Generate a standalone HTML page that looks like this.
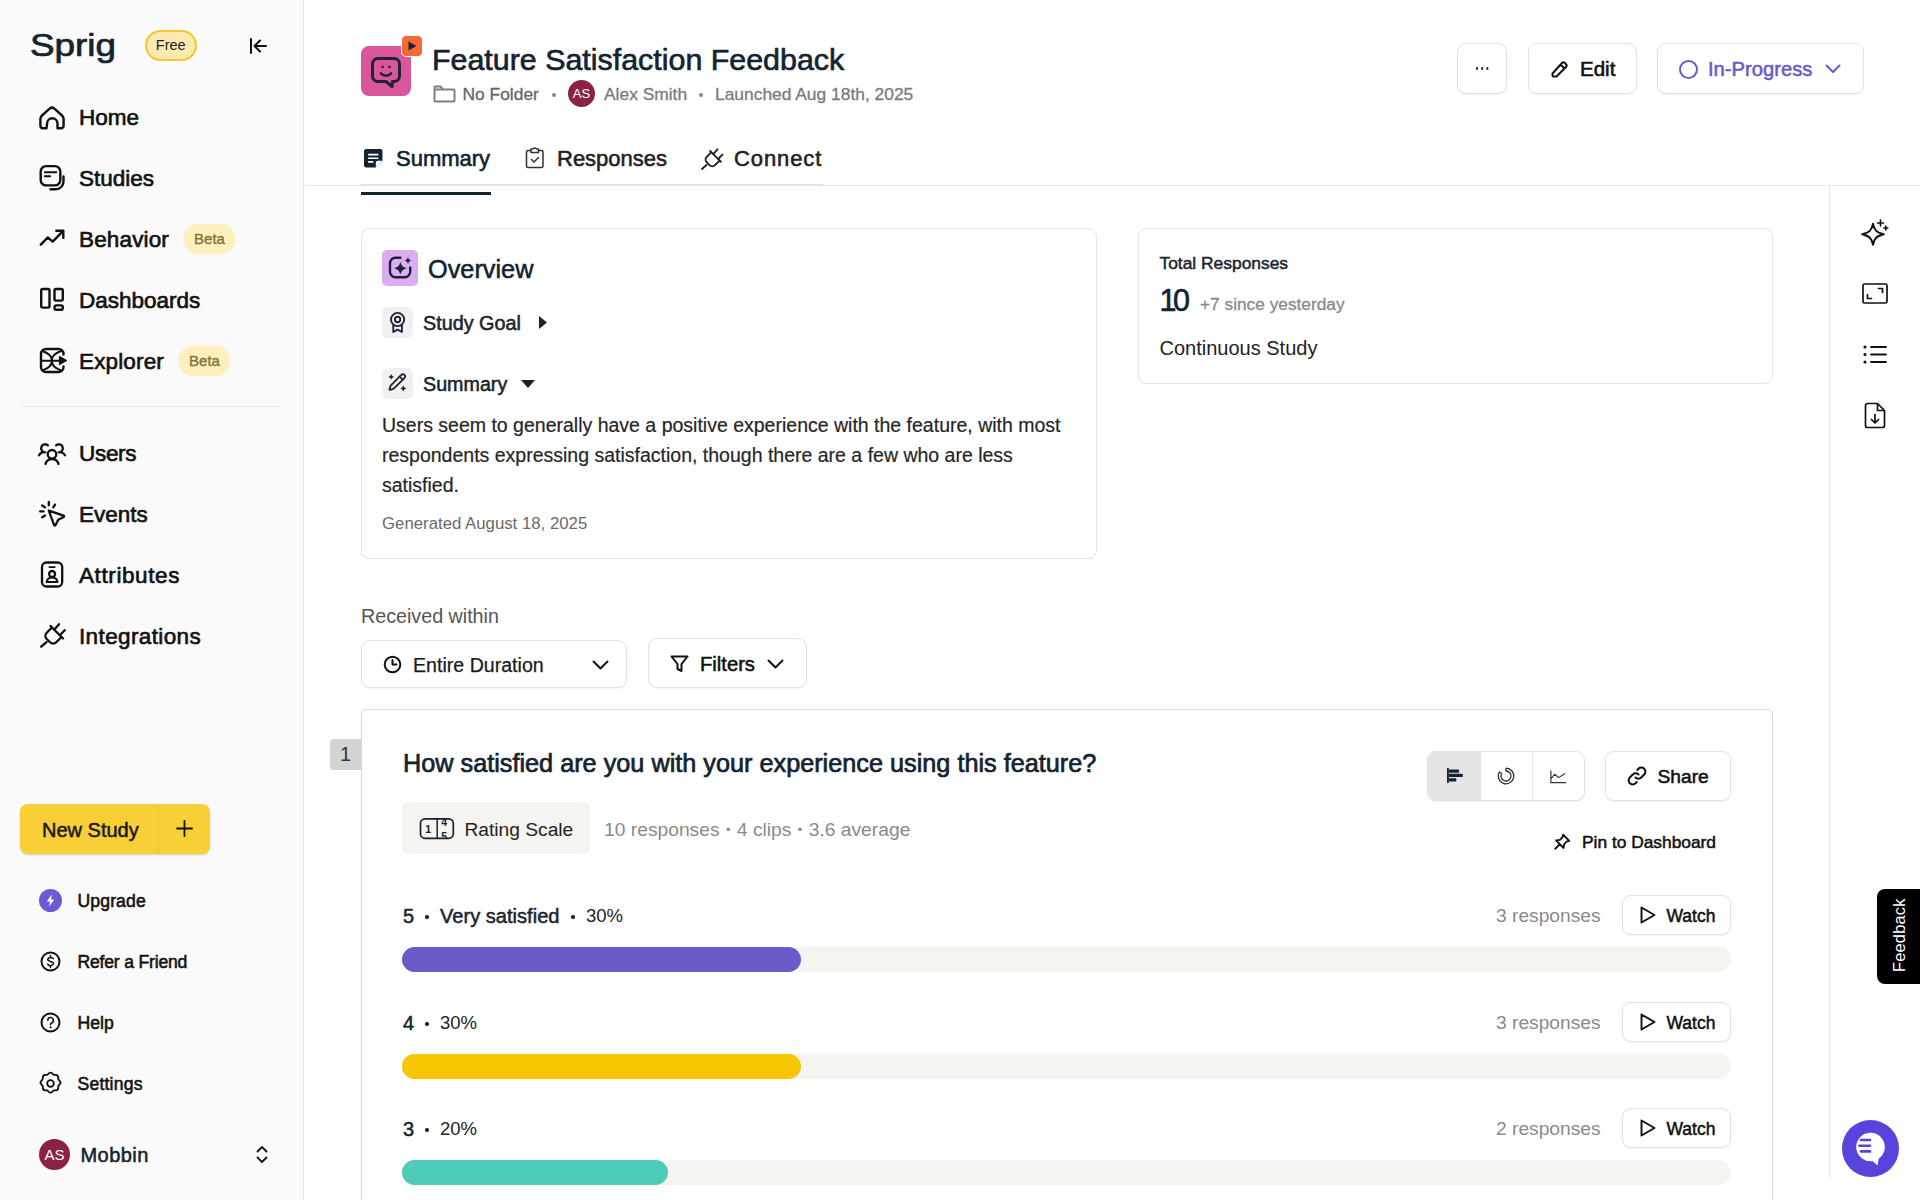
<!DOCTYPE html>
<html lang="en">
<head>
<meta charset="utf-8">
<title>Feature Satisfaction Feedback</title>
<style>
*{box-sizing:border-box;margin:0;padding:0}
html,body{width:1920px;height:1200px;overflow:hidden;background:#fff}
body{font-family:"Liberation Sans",sans-serif;color:#0f1d2a;position:relative}
.abs{position:absolute}
svg{display:block;overflow:visible}
.t{position:absolute;white-space:nowrap;line-height:1}

/* sidebar */
#side{position:absolute;left:0;top:0;width:304px;height:1200px;background:#fafafa;border-right:1px solid #e6e6e6}
.nav{position:absolute;left:79px;font-size:22.5px;font-weight:normal;color:#111;white-space:nowrap;line-height:1;-webkit-text-stroke:0.65px #111}
.nav2{position:absolute;left:77.5px;font-size:17.6px;font-weight:normal;color:#111;white-space:nowrap;line-height:1;-webkit-text-stroke:0.55px #111}
.beta{position:absolute;height:30px;border-radius:15px;background:#fdf0bf;color:#857331;font-size:15px;line-height:30px;text-align:center;font-weight:normal;-webkit-text-stroke:0.35px #857331;box-shadow:0 0 3px #fdf0bf}
.ico{position:absolute;stroke:#111;fill:none;stroke-width:2;stroke-linecap:round;stroke-linejoin:round}

/* main */
.btn{position:absolute;border:1px solid #e2e2e2;border-radius:9px;background:#fff;box-shadow:0 1px 2px rgba(0,0,0,.06)}
.card{position:absolute;border:1px solid #e4e4e4;border-radius:8px;background:#fff}
.gray{color:#7b7b7b}
.track{position:absolute;left:402px;width:1329px;height:25px;border-radius:13px;background:#f5f4f0}
.fill{position:absolute;left:0;top:0;height:25px;border-radius:13px}
</style>
</head>
<body>

<!-- ============ SIDEBAR ============ -->
<div id="side">
  <!-- logo -->
  <div class="t" id="logo" style="left:29.5px;top:29.5px;font-size:31.5px;letter-spacing:0;color:#13232f;-webkit-text-stroke:0.7px #13232f;transform:scaleX(1.17);transform-origin:0 0">Sprig</div>
  <div class="abs" style="left:144.5px;top:30px;width:52.5px;height:30.5px;border:2px solid #f4c92f;border-radius:15.5px;background:#fbe9b2;font-size:14.5px;line-height:27px;text-align:center;color:#222">Free</div>
  <svg class="ico" style="left:246.7px;top:34.7px" width="22" height="22" viewBox="0 0 22 22"><path d="M4 4v14M19 11H8M13 5.5L7.5 11l5.500 5.500"/></svg>


  <!-- sidebar icons -->
  <svg class="ico" style="left:0;top:0;stroke-width:2.4px" width="304" height="1200" viewBox="0 0 304 1200">
    <!-- home -->
    <path d="M46.500 128.300h-3.600a2.500 2.500 0 0 1 -2.500 -2.500v-6.800c0-1.400 0.600-2.600 1.600-3.500l7.600-6.800a3.600 3.600 0 0 1 4.800 0l7.600 6.800c1 0.900 1.600 2.100 1.600 3.500v6.800a2.500 2.500 0 0 1 -2.500 2.500h-3.600v-4.800a5.200 5.200 0 0 0 -10.400 0z"/>
    <!-- studies -->
    <rect x="40.700" y="166.100" width="19.600" height="19.300" rx="5.500"/>
    <path d="M44.800 172.300h11.400M44.800 176.300h5.400" stroke-width="2"/>
    <path d="M63.500 176.500v5a7.800 7.800 0 0 1 -7.800 7.800h-5.200"/>
    <!-- behavior -->
    <path d="M40.800 244.600l7-7.200 4.900 4.300 10.300-10.600M56.300 230.700h7v7.200"/>
    <!-- dashboards -->
    <rect x="41.200" y="289" width="8.300" height="18.600" rx="1.500"/>
    <rect x="54.500" y="289" width="8.300" height="11.600" rx="1.500"/>
    <rect x="54.500" y="305.400" width="8.300" height="4.400" rx="1.800"/>
    <!-- explorer -->
    <path d="M63.500 354.500v-0.500a5 5 0 0 0 -5 -5h-12.500a5 5 0 0 0 -5 5v13a5 5 0 0 0 5 5h12.500a5 5 0 0 0 5 -5v-0.500"/>
    <path d="M42.400 351.100C55.200 355.500 55.200 366 42.400 370.400M61.200 351.100C48.400 355.500 48.400 366 61.200 370.400M41 360.700h19" stroke-width="2.100"/>
    <path d="M59.500 356.500l7 4-7 4z" fill="#111" stroke-width="1.200"/>
    <!-- users -->
    <g stroke-width="2.300">
    <circle cx="52" cy="454.300" r="4.300"/>
    <path d="M45.500 463.800a6.800 6.800 0 0 1 13 0"/>
    <path d="M45.300 452.300a4 4 0 1 1 2.600 -6.900M39 455.200a6 6 0 0 1 4.600 -3"/>
    <path d="M58.700 452.300a4 4 0 1 0 -2.600 -6.900M65 455.200a6 6 0 0 0 -4.600 -3"/>
    </g>
    <!-- events -->
    <g stroke-width="2.300">
    <path d="M48.800 510.600l14.800 5a0.800 0.800 0 0 1 0.100 1.400l-5.400 2.800-2.800 5.400a0.800 0.800 0 0 1 -1.400 -0.100z"/>
    <path d="M48.800 502v3.300M55 504.600l-1.700 2.800M40.200 511.400h3.300M42.300 517.300l2.700-1.800M42.200 505.500l2.700 1.800"/>
    </g>
    <!-- attributes -->
    <g stroke-width="2.300">
    <rect x="42" y="562.500" width="20.200" height="24" rx="4.500"/>
    <path d="M49.500 567.200h5.200" stroke-width="1.800"/>
    <circle cx="52.100" cy="574" r="3"/>
    <path d="M46.600 582a5.600 5.600 0 0 1 11 0z" stroke-width="1.900"/>
    </g>
    <!-- integrations -->
    <g stroke-width="2.300">
    <path d="M41.200 646.700l5.300-4.600"/>
    <path d="M50.500 626l12.500 12.500"/>
    <path d="M52 627.500l-5.300 5.300a4.400 4.400 0 0 0 0 6.200l3.300 3.300a4.400 4.400 0 0 0 6.200 0l5.300-5.300"/>
    <path d="M54.500 629.500l4.500-5.300M60 635l4.800-4.700"/>
    </g>
    <!-- refer -->
    <g stroke-width="2">
    <circle cx="50.500" cy="961.500" r="9"/>
    <path d="M53.300 958.700a3 2.300 0 0 0 -5.600 0.600c0 2.700 5.800 1.500 5.800 4.300a3 2.300 0 0 1 -5.800 0.500M50.500 955.500v1.200M50.500 966.300v1.200" stroke-width="1.500"/>
    <!-- help -->
    <circle cx="50.500" cy="1022.500" r="9"/>
    <path d="M47.800 1020.300a2.800 2.800 0 1 1 3.900 2.600c-0.800 0.400-1.200 0.900-1.200 1.800" stroke-width="1.600"/>
    <circle cx="50.500" cy="1027.300" r="0.600" fill="#111" stroke-width="1"/>
    <!-- settings -->
    <circle cx="50.500" cy="1083.500" r="3.300" stroke-width="1.800"/>
    <path d="M47.300 1074.800l1.500-1.400a2.500 2.500 0 0 1 3.400 0l1.500 1.400 2.100 0.100a2.500 2.500 0 0 1 2.400 2.400l0.100 2.100 1.400 1.500a2.500 2.500 0 0 1 0 3.400l-1.400 1.500-0.100 2.100a2.500 2.500 0 0 1 -2.400 2.400l-2.100 0.100-1.500 1.400a2.500 2.500 0 0 1 -3.400 0l-1.500-1.400-2.100-0.100a2.500 2.500 0 0 1 -2.400 -2.400l-0.100-2.100-1.400-1.500a2.500 2.500 0 0 1 0 -3.400l1.400-1.500 0.100-2.100a2.500 2.500 0 0 1 2.400 -2.400z" stroke-width="1.800"/>
    </g>
    <!-- up/down -->
    <path d="M257.500 1151.500l4.500-4.500 4.500 4.500M257.500 1157.500l4.500 4.500 4.500-4.500" stroke-width="1.800"/>
  </svg>
  <!-- upgrade -->
  <div class="abs" style="left:39px;top:889px;width:23px;height:23px;border-radius:50%;background:#6b5bd0"></div>
  <svg class="abs" style="left:39px;top:889px" width="23" height="23" viewBox="0 0 23 23"><path d="M12.800 5.500l-5 7h3.200l-0.800 5 5-7h-3.200z" fill="#fff"/></svg>

  <div class="nav" style="top:107px">Home</div>
  <div class="nav" style="top:168px">Studies</div>
  <div class="nav" style="top:229px;letter-spacing:0.15px">Behavior</div>
  <div class="beta" style="left:184px;top:224px;width:51px">Beta</div>
  <div class="nav" style="top:290px">Dashboards</div>
  <div class="nav" style="top:351px;letter-spacing:0.15px">Explorer</div>
  <div class="beta" style="left:179px;top:346px;width:51px">Beta</div>

  <div class="abs" style="left:20px;top:406px;width:264px;height:1px;background:#ececec"></div>

  <div class="nav" style="top:443px;letter-spacing:-0.3px">Users</div>
  <div class="nav" style="top:504px">Events</div>
  <div class="nav" style="top:565px;letter-spacing:0.6px">Attributes</div>
  <div class="nav" style="top:626px;letter-spacing:0.37px">Integrations</div>

  <!-- New Study -->
  <div class="abs" style="left:20px;top:804px;width:190px;height:50px;border-radius:8px;background:#f9cf38;box-shadow:0 1px 2px rgba(0,0,0,.18)"></div>
  <div class="abs" style="left:158px;top:804px;width:1px;height:50px;background:#eec22c"></div>
  <div class="t" style="left:42px;top:820px;font-size:20px;color:#1b1b1b;-webkit-text-stroke:0.55px #1b1b1b">New Study</div>
  <svg class="ico" style="left:176px;top:820px" width="17" height="17" viewBox="0 0 17 17"><path d="M8.500 1v15M1 8.500h15" stroke-width="1.800"/></svg>

  <div class="nav2" style="top:893px;letter-spacing:0.12px">Upgrade</div>
  <div class="nav2" style="top:954px;letter-spacing:-0.2px">Refer a Friend</div>
  <div class="nav2" style="top:1015px">Help</div>
  <div class="nav2" style="top:1076px;letter-spacing:0.2px">Settings</div>

  <div class="abs" style="left:39px;top:1139px;width:31px;height:31px;border-radius:50%;background:#8a2244;color:#fff;font-size:15px;line-height:31px;text-align:center">AS</div>
  <div class="t" style="left:80.5px;top:1145px;font-size:20px;letter-spacing:0.45px;color:#13232f;-webkit-text-stroke:0.55px #13232f">Mobbin</div>
</div>

<!-- ============ HEADER ============ -->
<div id="hdr">
  <div class="abs" style="left:361px;top:46px;width:50px;height:50px;border-radius:8px;background:#d9559c"></div>
  <div class="abs" style="left:401px;top:35px;width:22px;height:22px;border-radius:5px;background:#f26a35;border:1.5px solid #fff"></div>
  <div class="t" id="title" style="left:432px;top:44px;font-size:30.4px;color:#13232f;-webkit-text-stroke:0.65px #13232f">Feature Satisfaction Feedback</div>
  <div class="t gray" style="left:462.5px;top:86px;font-size:17.4px;-webkit-text-stroke:0.3px;color:#666">No Folder</div>
  <div class="t gray" style="left:604px;top:86px;font-size:17.4px;-webkit-text-stroke:0.3px">Alex Smith</div>
  <div class="t gray" style="left:715px;top:86px;font-size:17.4px;-webkit-text-stroke:0.3px">Launched Aug 18th, 2025</div>
  <div class="abs" style="left:568px;top:80px;width:27px;height:27px;border-radius:50%;background:#8a2244;color:#fff;font-size:13px;line-height:27px;text-align:center">AS</div>
</div>


<!-- header icons -->
<svg class="abs" style="left:361px;top:46px" width="50" height="50" viewBox="0 0 50 50" fill="none" stroke="#1d2433" stroke-width="3" stroke-linecap="round" stroke-linejoin="round">
  <path d="M17 12.500h16a5.500 5.500 0 0 1 5.500 5.500v12a5.500 5.500 0 0 1 -5.500 5.500h-1.500l-0.500 5-6-5h-8a5.500 5.500 0 0 1 -5.500 -5.500v-12a5.500 5.500 0 0 1 5.500 -5.500z"/>
  <path d="M20 27.500c2.500 3 7.500 3 10 0" stroke-width="2.600"/>
  <circle cx="21.500" cy="21" r="1.300" fill="#1d2433" stroke="none"/><circle cx="28.500" cy="21" r="1.300" fill="#1d2433" stroke="none"/>
</svg>
<svg class="abs" style="left:402px;top:36px" width="20" height="20" viewBox="0 0 20 20"><path d="M6.500 5.500l8 4.500-8 4.500z" fill="#1d2433"/></svg>
<svg class="abs" style="left:433px;top:84px" width="23" height="19" viewBox="0 0 23 19" fill="none" stroke="#808080" stroke-width="2" stroke-linejoin="round"><path d="M1.500 4v12.500a1 1 0 0 0 1 1h18a1 1 0 0 0 1 -1v-10a1 1 0 0 0 -1 -1h-10.500l-2.500-3h-5a1 1 0 0 0 -1 1.500z"/><path d="M1.500 5.500h9"/></svg>
<div class="abs" style="left:552px;top:93px;width:4px;height:4px;border-radius:50%;background:#888"></div>
<div class="abs" style="left:699px;top:93px;width:4px;height:4px;border-radius:50%;background:#888"></div>

<!-- header buttons -->
<div class="btn" style="left:1457px;top:43px;width:50px;height:51px"></div>
<div class="abs" style="left:1475.5px;top:67px;width:2.6px;height:2.6px;border-radius:50%;background:#222;box-shadow:5.2px 0 0 #222,10.4px 0 0 #222"></div>
<div class="btn" style="left:1528px;top:43px;width:109px;height:51px"></div>
<svg class="ico" style="left:1550px;top:59px" width="19" height="19" viewBox="0 0 19 19"><path d="M2.500 14.500l9.500-10.500a2 2 0 0 1 2.800 0l1.200 1.200a2 2 0 0 1 0 2.800l-9.500 9.500h-3a1 1 0 0 1 -1 -1zM10.500 5.500l4 4"/></svg>
<div class="t" id="edit" style="left:1580px;top:58.5px;font-size:20.5px;color:#111;-webkit-text-stroke:0.6px #111">Edit</div>
<div class="btn" style="left:1657px;top:43px;width:207px;height:51px"></div>
<div class="abs" style="left:1678.500px;top:59.500px;width:19px;height:19px;border-radius:50%;border:2.300px solid #6a5bc7"></div>
<div class="t" id="inprog" style="left:1708px;top:58.5px;font-size:20.2px;color:#6a5bc7;-webkit-text-stroke:0.550px #6a5bc7">In-Progress</div>
<svg class="abs" style="left:1825px;top:64px" width="16" height="10" viewBox="0 0 16 10" fill="none" stroke="#6a5bc7" stroke-width="2" stroke-linecap="round" stroke-linejoin="round"><path d="M1.500 1.500l6.500 6.500 6.500-6.500"/></svg>

<!-- tabs -->
<div class="abs" style="left:305px;top:185px;width:1615px;height:1px;background:#e8e8e8"></div>
<div class="abs" style="left:361px;top:184px;width:462px;height:2px;background:#e3e3e3"></div>
<div class="abs" style="left:361px;top:192px;width:130px;height:3px;background:#13232f"></div>
<div class="t tab" style="left:396px;top:148px;font-size:22px;color:#13232f;-webkit-text-stroke:0.600px #13232f">Summary</div>
<div class="t tab" style="left:557px;top:148px;font-size:22px;color:#222;-webkit-text-stroke:0.550px #222">Responses</div>
<div class="t tab" style="left:734px;top:148px;font-size:22px;letter-spacing:0.9px;color:#222;-webkit-text-stroke:0.550px #222">Connect</div>
<svg class="abs" style="left:363.300px;top:148px" width="20.500" height="20.500" viewBox="0 0 20 20"><path d="M3 1h14a2 2 0 0 1 2 2v9.500l-6.500 6.500h-9.500a2 2 0 0 1 -2 -2v-14a2 2 0 0 1 2 -2z" fill="#13232f"/><path d="M19 12.500h-4.500a2 2 0 0 0 -2 2v4.500z" fill="#fff"/><path d="M5 6.500h10M5 10h10M5 13.500h5" stroke="#fff" stroke-width="1.600"/></svg>
<svg class="abs" style="left:525px;top:147px" width="20" height="22" viewBox="0 0 20 22" fill="none" stroke="#333" stroke-width="1.500" stroke-linejoin="round" stroke-linecap="round"><rect x="1.500" y="3.500" width="16.500" height="17" rx="1.500"/><path d="M6 3.500v-1.500h2a2 2 0 0 1 3.500 0h2v3.500h-7.500z" fill="#fff"/><path d="M6.500 12.500l2.500 2.500 4.500-4.500"/></svg>
<svg class="abs" style="left:700px;top:146.500px" width="24" height="24" viewBox="39 621.500 27.500 27.500" fill="none" stroke="#222" stroke-width="2.200" stroke-linejoin="round" stroke-linecap="round"><path d="M41.200 646.700l5.300-4.600"/><path d="M50.500 626l12.500 12.500"/><path d="M52 627.500l-5.300 5.300a4.400 4.400 0 0 0 0 6.200l3.300 3.300a4.400 4.400 0 0 0 6.200 0l5.300-5.300"/><path d="M54.500 629.500l4.500-5.300M60 635l4.800-4.700"/></svg>

<!-- right rail -->
<div class="abs" style="left:1829px;top:186px;width:1px;height:992px;background:#e4e4e4"></div>


<!-- ============ OVERVIEW CARD ============ -->
<div class="card" style="left:361px;top:227.5px;width:736px;height:331px"></div>
<div class="abs" style="left:382px;top:250px;width:36px;height:36px;border-radius:5px;background:#d9aef3"></div>
<svg class="abs" style="left:382px;top:250px" width="36" height="36" viewBox="0 0 36 36" fill="none" stroke="#1d2433" stroke-width="2.400" stroke-linecap="round" stroke-linejoin="round"><path d="M18.500 7.700h-5a5.500 5.500 0 0 0 -5.500 5.500v8.600a5.500 5.500 0 0 0 5.500 5.500h9.200a5.500 5.500 0 0 0 5.500 -5.500v-4.300"/><path d="M18.4 11.899999999999999C19.785999999999998 15.982399999999998 20.6176 16.814 24.7 18.2C20.6176 19.586 19.785999999999998 20.4176 18.4 24.5C17.014 20.4176 16.182399999999998 19.586 12.099999999999998 18.2C16.182399999999998 16.814 17.014 15.982399999999998 18.4 11.899999999999999z" fill="#1d2433" stroke="none"/><path d="M26 7.1C26.77 9.367999999999999 27.232 9.83 29.5 10.6C27.232 11.37 26.77 11.832 26 14.1C25.23 11.832 24.768 11.37 22.5 10.6C24.768 9.83 25.23 9.367999999999999 26 7.1z" fill="#1d2433" stroke="none"/></svg>
<div class="t" id="ov" style="left:428px;top:257px;font-size:25.3px;color:#13232f;-webkit-text-stroke:0.550px #13232f">Overview</div>

<div class="abs" style="left:382px;top:307px;width:31px;height:31px;border-radius:5px;background:#f1f1f1"></div>
<svg class="abs" style="left:388px;top:311px" width="19" height="23" viewBox="0 0 19 23" fill="none" stroke="#1d2433" stroke-width="1.900" stroke-linecap="round" stroke-linejoin="round"><circle cx="9.600" cy="8.500" r="6.600"/><circle cx="9.600" cy="8.500" r="2.700"/><path d="M5.300 14v7l4.300-2.300 4.300 2.300v-7"/></svg>
<div class="t" id="sg" style="left:423px;top:314px;font-size:19.8px;color:#1b2430;-webkit-text-stroke:0.55px #1b2430">Study Goal</div>
<svg class="abs" style="left:538px;top:315px" width="10" height="15" viewBox="0 0 10 15"><path d="M1 1l8 6.500-8 6.500z" fill="#13232f"/></svg>

<div class="abs" style="left:382px;top:368px;width:31px;height:31px;border-radius:5px;background:#f1f1f1"></div>
<svg class="abs" style="left:382px;top:368px" width="31" height="31" viewBox="0 0 31 31" fill="none" stroke="#1d2433" stroke-linecap="round" stroke-linejoin="round"><g transform="translate(5.900 4.700) scale(0.780)" stroke-width="2.300"><path d="M21.174 6.812a1 1 0 0 0-3.986-3.987L3.842 16.174a2 2 0 0 0-.5.830l-1.321 4.352a.5.5 0 0 0 .623.622l4.353-1.320a2 2 0 0 0 .830-.497z"/><path d="M15 5l4 4"/></g><path d="M9.2 6.1000000000000005C9.815999999999999 7.9144000000000005 10.185599999999999 8.284 12.0 8.9C10.185599999999999 9.516 9.815999999999999 9.8856 9.2 11.7C8.584 9.8856 8.2144 9.516 6.3999999999999995 8.9C8.2144 8.284 8.584 7.9144000000000005 9.2 6.1000000000000005z" fill="#1d2433" stroke="none"/><path d="M21.3 17.2C22.004 19.2736 22.4264 19.695999999999998 24.5 20.4C22.4264 21.104 22.004 21.5264 21.3 23.599999999999998C20.596 21.5264 20.1736 21.104 18.1 20.4C20.1736 19.695999999999998 20.596 19.2736 21.3 17.2z" fill="#1d2433" stroke="none"/></svg>
<div class="t" id="sm" style="left:423px;top:375px;font-size:19.7px;color:#1b2430;-webkit-text-stroke:0.55px #1b2430">Summary</div>
<svg class="abs" style="left:520px;top:379px" width="16" height="10" viewBox="0 0 16 10"><path d="M1 1h14l-7 8z" fill="#13232f"/></svg>

<div class="t para" style="left:382px;top:416px;font-size:19.5px;color:#262626;-webkit-text-stroke:0.2px #262626">Users seem to generally have a positive experience with the feature, with most</div>
<div class="t para" style="left:382px;top:446px;font-size:19.5px;color:#262626;-webkit-text-stroke:0.2px #262626">respondents expressing satisfaction, though there are a few who are less</div>
<div class="t para" style="left:382px;top:476px;font-size:19.5px;color:#262626;-webkit-text-stroke:0.2px #262626">satisfied.</div>
<div class="t" id="gen" style="left:382px;top:516px;font-size:16.8px;color:#6a6a6a">Generated August 18, 2025</div>

<!-- ============ TOTAL RESPONSES ============ -->
<div class="card" style="left:1138px;top:227.5px;width:635px;height:156px"></div>
<div class="t" id="tr" style="left:1159.5px;top:255px;font-size:17.4px;color:#1b2430;-webkit-text-stroke:0.5px #1b2430">Total Responses</div>
<div class="t" id="ten" style="left:1159.5px;top:284.5px;font-size:30.5px;letter-spacing:-3.5px;color:#13232f;-webkit-text-stroke:0.600px #13232f">10</div>
<div class="t" id="since" style="left:1200px;top:295.5px;font-size:17.3px;color:#8a8a8a;-webkit-text-stroke:0.3px #8a8a8a">+7 since yesterday</div>
<div class="t" id="cs" style="left:1159.5px;top:338px;font-size:20px;color:#222">Continuous Study</div>

<!-- ============ FILTER ROW ============ -->
<div class="t" id="rw" style="left:361px;top:607px;font-size:19.7px;color:#555">Received within</div>
<div class="btn" style="left:361px;top:640px;width:266px;height:48px"></div>
<svg class="ico" style="left:383px;top:655px" width="19" height="19" viewBox="0 0 19 19"><circle cx="9.500" cy="9.500" r="7.800"/><path d="M9.500 5v4.500h4" /></svg>
<div class="t" id="ed" style="left:413px;top:656px;font-size:19.6px;color:#1b1b1b;-webkit-text-stroke:0.25px #1b1b1b">Entire Duration</div>
<svg class="ico" style="left:592px;top:660px" width="17" height="10" viewBox="0 0 17 10"><path d="M1.500 1.500l7 7 7-7"/></svg>
<div class="btn" style="left:648px;top:638px;width:159px;height:50px"></div>
<svg class="ico" style="left:670px;top:655px" width="19" height="18" viewBox="0 0 19 18"><path d="M1.500 1.500h16l-6 7.500v7l-4-2v-5z"/></svg>
<div class="t" id="fl" style="left:700px;top:654px;font-size:20.2px;color:#111;-webkit-text-stroke:0.55px #111">Filters</div>
<svg class="ico" style="left:767px;top:659px" width="17" height="10" viewBox="0 0 17 10"><path d="M1.500 1.500l7 7 7-7"/></svg>

<!-- ============ QUESTION CARD ============ -->
<div class="abs" style="left:361px;top:709px;width:1412px;height:520px;border:1.500px solid #d9d9d9;border-radius:5px;background:#fff"></div>
<div class="abs" style="left:330px;top:739px;width:31px;height:31px;border-radius:4px 0 0 4px;background:#d2d4d3;color:#333;font-size:20px;line-height:31px;text-align:center">1</div>
<div class="t" id="q" style="left:403px;top:751px;font-size:25.25px;color:#13232f;-webkit-text-stroke:0.7px #13232f">How satisfied are you with your experience using this feature?</div>
<div class="abs" style="left:402px;top:802px;width:188px;height:52px;border-radius:5px;background:#f5f4f0"></div>
<svg class="abs" style="left:419px;top:817px" width="36" height="23" viewBox="0 0 36 23"><defs><clipPath id="rc"><rect x="1" y="1.300" width="33.800" height="20.500" rx="4.500"/></clipPath></defs><rect x="1.500" y="1.800" width="32.800" height="19.500" rx="4.500" fill="none" stroke="#13232f" stroke-width="1.700"/><path d="M18.200 1.800v19.500" stroke="#13232f" stroke-width="1.500"/><g clip-path="url(#rc)" font-family="Liberation Sans, sans-serif" font-weight="bold" fill="#13232f" font-size="10.500"><text x="6.200" y="16">1</text><text x="22.300" y="9">4</text><text x="22.300" y="22.500">5</text></g></svg>
<div class="t" id="rs" style="left:464.5px;top:820px;font-size:19.2px;color:#222">Rating Scale</div>
<div class="t" id="meta" style="left:604px;top:819.7px;font-size:19.25px;color:#8a8a8a">10 responses <span style="font-size:13px;position:relative;top:-1.5px;margin:0 1px">•</span> 4 clips <span style="font-size:13px;position:relative;top:-1.5px;margin:0 1px">•</span> 3.6 average</div>

<!-- segmented -->
<div class="btn" style="left:1427px;top:751px;width:158px;height:50px;overflow:hidden"><div class="abs" style="left:0;top:0;width:53px;height:50px;background:#e4e6e5"></div><div class="abs" style="left:104px;top:0;width:1px;height:50px;background:#e6e6e6"></div></div>
<svg class="abs" style="left:1446.700px;top:768.300px" width="15.800" height="15" viewBox="0 0 17 16" fill="#13232f"><rect x="0" y="0" width="2" height="16"/><rect x="2" y="1.500" width="11" height="3.500" rx="0.500"/><rect x="2" y="6.200" width="15" height="3.500" rx="0.500"/><rect x="2" y="11" width="8" height="3.500" rx="0.500"/></svg>
<svg class="abs" style="left:1497px;top:767px" width="18" height="18" viewBox="0 0 18 18" fill="none" stroke="#333" stroke-width="1.300"><path d="M9 1.200a7.800 7.800 0 1 1 -6.700 3.800l2.400 1.500a5 5 0 1 0 4.300 -2.500z" stroke-linejoin="round"/></svg>
<svg class="abs" style="left:1550px;top:769.500px" width="16.500" height="13.500" preserveAspectRatio="none" viewBox="0 0 18 16" fill="none" stroke="#333" stroke-width="1.300" stroke-linecap="round" stroke-linejoin="round"><path d="M1 1v14h16M1 10.500l4-5.500 4.500 4 6.500-4.500"/></svg>
<!-- share -->
<div class="btn" style="left:1605px;top:751px;width:126px;height:50px"></div>
<svg class="ico" style="left:1627px;top:766px" width="20" height="20" viewBox="0 0 20 20"><path d="M8.500 11.500a4 4 0 0 0 5.700 0l3-3a4 4 0 0 0 -5.700 -5.700l-1.200 1.200M11.500 8.500a4 4 0 0 0 -5.700 0l-3 3a4 4 0 0 0 5.700 5.700l1.200-1.200"/></svg>
<div class="t" id="share" style="left:1657.5px;top:767px;font-size:19.2px;color:#111;-webkit-text-stroke:0.55px #111">Share</div>
<!-- pin -->
<svg class="ico" style="stroke-width:2px;left:1552.500px;top:832.500px" width="18" height="18" viewBox="0 0 19 19"><path d="M10.700 1.800l6.500 6.500-2.800 0.800-2.600 2.600-0.600 4.100-8-8 4.100-0.600 2.600-2.600zM7.200 11.800l-4.800 4.800"/></svg>
<div class="t" id="pin" style="left:1582px;top:833.5px;font-size:17.35px;color:#111;-webkit-text-stroke:0.5px #111">Pin to Dashboard</div>

<!-- rows -->
<div class="t lab" style="left:403px;top:906px;font-size:20px;color:#1b2430;-webkit-text-stroke:0.5px #1b2430">5</div>
<div class="abs" style="left:425px;top:915px;width:3.5px;height:3.5px;border-radius:50%;background:#222"></div>
<div class="t lab" id="vs" style="left:440px;top:906px;font-size:20.1px;color:#1b2430;-webkit-text-stroke:0.5px #1b2430">Very satisfied</div>
<div class="abs" style="left:571px;top:915px;width:3.5px;height:3.5px;border-radius:50%;background:#222"></div>
<div class="t lab" id="p30" style="left:586px;top:906.5px;font-size:18.5px;color:#222">30%</div>
<div class="t rsp" style="left:1496px;top:906px;font-size:19.2px;color:#8a8a8a">3 responses</div>
<div class="track" style="top:947px"><div class="fill" style="width:399px;background:#6a5cc8"></div></div>

<div class="t lab" style="left:403px;top:1013px;font-size:20px;color:#1b2430;-webkit-text-stroke:0.5px #1b2430">4</div>
<div class="abs" style="left:425px;top:1022px;width:3.5px;height:3.5px;border-radius:50%;background:#222"></div>
<div class="t lab" style="left:440px;top:1013.5px;font-size:18.5px;color:#222">30%</div>
<div class="t rsp" style="left:1496px;top:1013px;font-size:19.2px;color:#8a8a8a">3 responses</div>
<div class="track" style="top:1053.5px"><div class="fill" style="width:399px;background:#f8c503"></div></div>

<div class="t lab" style="left:403px;top:1119px;font-size:20px;color:#1b2430;-webkit-text-stroke:0.5px #1b2430">3</div>
<div class="abs" style="left:425px;top:1128px;width:3.5px;height:3.5px;border-radius:50%;background:#222"></div>
<div class="t lab" style="left:440px;top:1119.5px;font-size:18.5px;color:#222">20%</div>
<div class="t rsp" style="left:1496px;top:1119px;font-size:19.2px;color:#8a8a8a">2 responses</div>
<div class="track" style="top:1160px"><div class="fill" style="width:266px;background:#4ecbb9"></div></div>

<!-- watch buttons -->
<div class="btn" style="left:1622px;top:895px;width:109px;height:40px"></div>
<svg class="ico" style="stroke-width:1.900px;left:1640px;top:906px" width="16" height="18" viewBox="0 0 16 18"><path d="M1.500 1.500l13 7.500-13 7.500z"/></svg>
<div class="t w" style="left:1666.5px;top:907.5px;font-size:17.5px;color:#111;-webkit-text-stroke:0.5px #111">Watch</div>
<div class="btn" style="left:1622px;top:1001.5px;width:109px;height:40px"></div>
<svg class="ico" style="stroke-width:1.900px;left:1640px;top:1013px" width="16" height="18" viewBox="0 0 16 18"><path d="M1.500 1.500l13 7.500-13 7.500z"/></svg>
<div class="t w" style="left:1666.5px;top:1014.5px;font-size:17.5px;color:#111;-webkit-text-stroke:0.5px #111">Watch</div>
<div class="btn" style="left:1622px;top:1108px;width:109px;height:40px"></div>
<svg class="ico" style="stroke-width:1.900px;left:1640px;top:1119px" width="16" height="18" viewBox="0 0 16 18"><path d="M1.500 1.500l13 7.500-13 7.500z"/></svg>
<div class="t w" style="left:1666.5px;top:1120.5px;font-size:17.5px;color:#111;-webkit-text-stroke:0.5px #111">Watch</div>

<!-- ============ RIGHT RAIL ICONS ============ -->
<svg class="ico" style="stroke-width:1.900px;left:1861px;top:217px" width="30" height="30" viewBox="0 0 30 30"><path d="M12 6.800c1.300 6.500 3.500 8.800 10.800 10.500c-7.300 1.700-9.500 4-10.800 10.500c-1.300-6.500-3.500-8.800-10.800-10.500c7.300-1.700 9.500-4 10.800-10.500z"/><path d="M19.500 3v6M16.500 6h6M24.800 9v4M22.800 11h4" stroke-width="1.600"/></svg>
<svg class="ico" style="stroke-width:1.700px;left:1862px;top:283px" width="26" height="21" viewBox="0 0 26 21"><rect x="1" y="1" width="24" height="19" rx="1.500"/><path d="M16.500 5.500h4v4M9.500 15.500h-4v-4"/></svg>
<svg class="ico" style="stroke-width:1.800px;left:1863px;top:345px" width="24" height="19" viewBox="0 0 24 19"><path d="M8 2h15M8 9.500h15M8 17h15"/><circle cx="2" cy="2" r="0.700" fill="#111"/><circle cx="2" cy="9.500" r="0.700" fill="#111"/><circle cx="2" cy="17" r="0.700" fill="#111"/></svg>
<svg class="ico" style="stroke-width:1.700px;left:1864px;top:402px" width="22" height="27" viewBox="0 0 22 27"><path d="M13.500 1.500h-10a2 2 0 0 0 -2 2v20a2 2 0 0 0 2 2h15a2 2 0 0 0 2 -2v-15zM13.500 1.500v7h7M11 12.500v8M7.500 17.500l3.500 3.500 3.500-3.500"/></svg>

<!-- feedback tab -->
<div class="abs" style="left:1877px;top:889px;width:50px;height:95px;border-radius:8px;background:#000"></div>
<div class="t" style="left:1891px;top:972px;font-size:16.4px;color:#fff;transform:rotate(-90deg);transform-origin:0 0;letter-spacing:0.200px">Feedback</div>

<!-- chat bubble -->
<div class="abs" style="left:1842px;top:1120px;width:57px;height:57px;border-radius:50%;background:#5844dc"></div>
<svg class="abs" style="left:1842px;top:1120px" width="57" height="57" viewBox="0 0 57 57"><circle cx="28.500" cy="27" r="14.300" fill="#fff"/><path d="M30 40.500l5.500 5 1.500-9z" fill="#fff"/><path d="M19 20h9M17.500 25.700h10.500M19 31.400h9" stroke="#5844dc" stroke-width="2.600" stroke-linecap="round"/></svg>

</body>
</html>
